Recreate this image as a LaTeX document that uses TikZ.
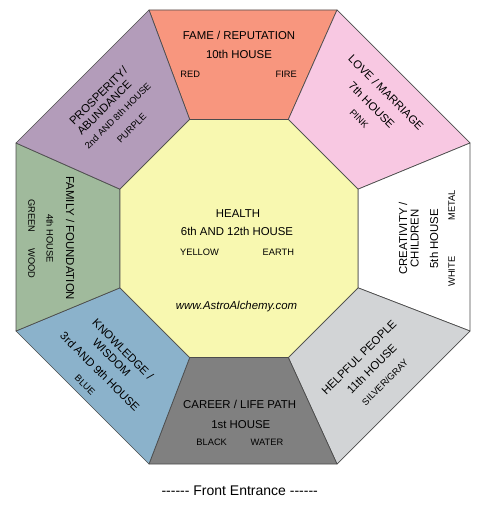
\documentclass[tikz,border=0pt]{standalone}
\usepackage{fontspec}
\setmainfont{Liberation Sans}[Ligatures=TeXOff]
\usepackage{tikz}
\usepackage{xcolor}
\definecolor{fameRed}{HTML}{F8967E}
\definecolor{loveRose}{HTML}{F8C8E2}
\definecolor{helpGray}{HTML}{D2D4D6}
\definecolor{careerGray}{HTML}{808080}
\definecolor{wisdomBlue}{HTML}{8BB2CB}
\definecolor{familyGreen}{HTML}{A0BA9C}
\definecolor{wealthPurple}{HTML}{B39CBA}
\definecolor{healthYellow}{HTML}{F8F8B0}

\begin{document}
\begin{tikzpicture}[x=1pt, y=-1pt,
    sector/.style={draw=black!70, line width=0.7pt, line join=round},
    lbl/.style={font=\fontsize{11.4}{13}\selectfont, inner sep=0pt},
    sml/.style={font=\fontsize{9.3}{11}\selectfont, inner sep=0pt}]
    \useasboundingbox (0,0) rectangle (480,508);
    % outer ring corners
    \coordinate (o1) at (149,10);
    \coordinate (o2) at (337,10);
    \coordinate (o3) at (470,143);
    \coordinate (o4) at (470,331);
    \coordinate (o5) at (337,464);
    \coordinate (o6) at (149,464);
    \coordinate (o7) at (16,331);
    \coordinate (o8) at (16,143);
    % inner octagon corners
    \coordinate (i1) at (189.7,119.5);
    \coordinate (i2) at (288.3,119.5);
    \coordinate (i3) at (358,189.2);
    \coordinate (i4) at (358,287.8);
    \coordinate (i5) at (288.3,357.5);
    \coordinate (i6) at (189.7,357.5);
    \coordinate (i7) at (120,287.8);
    \coordinate (i8) at (120,189.2);
    % sectors
    \filldraw[sector, fill=fameRed] (o1) -- (o2) -- (i2) -- (i1) -- cycle;
    \filldraw[sector, fill=loveRose] (o2) -- (o3) -- (i3) -- (i2) -- cycle;
    \filldraw[sector, fill=white] (o3) -- (o4) -- (i4) -- (i3) -- cycle;
    \filldraw[sector, fill=helpGray] (o4) -- (o5) -- (i5) -- (i4) -- cycle;
    \filldraw[sector, fill=careerGray] (o5) -- (o6) -- (i6) -- (i5) -- cycle;
    \filldraw[sector, fill=wisdomBlue] (o6) -- (o7) -- (i7) -- (i6) -- cycle;
    \filldraw[sector, fill=familyGreen] (o7) -- (o8) -- (i8) -- (i7) -- cycle;
    \filldraw[sector, fill=wealthPurple] (o8) -- (o1) -- (i1) -- (i8) -- cycle;
    \filldraw[sector, fill=healthYellow] (i1) -- (i2) -- (i3) -- (i4)
        -- (i5) -- (i6) -- (i7) -- (i8) -- cycle;
    % top
    \node[lbl, anchor=base] (fame) at (239,40) {FAME / REPUTATION};
    \node[lbl, anchor=base] (fameHouse) at (239,58.3) {10th HOUSE};
    \node[sml, anchor=base] (fameColor) at (190.3,77.3) {RED};
    \node[sml, anchor=base] (fameElem) at (286.3,77.3) {FIRE};
    % centre
    \node[lbl, anchor=base] (health) at (238,217.3) {HEALTH};
    \node[lbl, anchor=base] (healthHouse) at (237,235.7) {6th AND 12th HOUSE};
    \node[sml, anchor=base] (healthColor) at (199.5,255) {YELLOW};
    \node[sml, anchor=base] (healthElem) at (278.3,255) {EARTH};
    \node[lbl, anchor=base, font=\fontsize{11.4}{13}\selectfont\itshape] (site) at (236.5,309) {www.AstroAlchemy.com};
    % bottom
    \node[lbl, anchor=base] (career) at (239.7,408.3) {CAREER / LIFE PATH};
    \node[lbl, anchor=base] (careerHouse) at (240.8,428.3) {1st HOUSE};
    \node[sml, anchor=base] (careerColor) at (211.7,445.7) {BLACK};
    \node[sml, anchor=base] (careerElem) at (267,445.7) {WATER};
    \node[lbl, anchor=base, font=\fontsize{14}{16}\selectfont] (entrance) at (239.7,495) {------ Front Entrance ------};
    % upper left
    \node[lbl, rotate=45] (wealth) at (98.3,95.7) {PROSPERITY/};
    \node[lbl, rotate=45] (wealthB) at (104.3,107.7) {ABUNDANCE};
    \node[sml, rotate=45] (wealthHouse) at (117.7,116) {2nd AND 8th HOUSE};
    \node[sml, rotate=45] (wealthColor) at (131.7,128.3) {PURPLE};
    % upper right
    \node[lbl, rotate=-45] (love) at (386,92.3) {LOVE / MARRIAGE};
    \node[lbl, rotate=-45] (loveHouse) at (371.7,105) {7th HOUSE};
    \node[sml, rotate=-45] (loveColor) at (359,119) {PINK};
    % left
    \node[lbl, rotate=-90] (family) at (70.3,238.3) {FAMILY / FOUNDATION};
    \node[sml, rotate=-90] (familyHouse) at (50,238.3) {4th HOUSE};
    \node[sml, rotate=-90] (familyColor) at (31.5,216) {GREEN};
    \node[sml, rotate=-90] (familyElem) at (31.5,263.3) {WOOD};
    % right
    \node[lbl, rotate=90] (child) at (403,238.3) {CREATIVITY /};
    \node[lbl, rotate=90] (childB) at (414.6,238.3) {CHILDREN};
    \node[lbl, rotate=90] (childHouse) at (434,238.7) {5th HOUSE};
    \node[sml, rotate=90] (childColor) at (451.7,271.7) {WHITE};
    \node[sml, rotate=90] (childElem) at (451.7,205) {METAL};
    % lower left
    \node[lbl, rotate=-45] (wisdom) at (123,349.3) {KNOWLEDGE /};
    \node[lbl, rotate=-45] (wisdomB) at (111.6,357.4) {WISDOM};
    \node[lbl, rotate=-45] (wisdomHouse) at (100,371.7) {3rd AND 9th HOUSE};
    \node[sml, rotate=-45] (wisdomColor) at (85,385) {BLUE};
    % lower right
    \node[lbl, rotate=45] (helper) at (359,357.3) {HELPFUL PEOPLE};
    \node[lbl, rotate=45] (helperHouse) at (371.7,369) {11th HOUSE};
    \node[sml, rotate=45] (helperColor) at (385,382.3) {SILVER/GRAY};
\end{tikzpicture}
\end{document}
